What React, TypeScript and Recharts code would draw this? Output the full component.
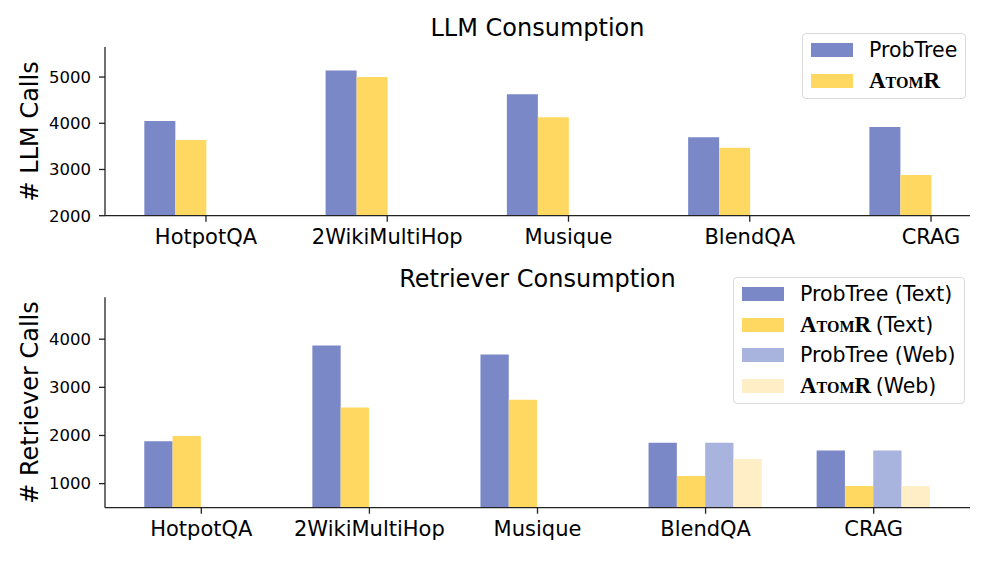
import { BarChart, Bar, XAxis, YAxis } from "recharts";

const categories = ["HotpotQA", "2WikiMultiHop", "Musique", "BlendQA", "CRAG"];

// LLM calls
const llmProbTree = [4050, 5140, 4630, 3700, 3920];
const llmAtomR = [3640, 5000, 4130, 3470, 2880];
const llmTicks = [2000, 3000, 4000, 5000];

// Retriever calls
const retProbTreeText = [1880, 3870, 3680, 1850, 1690];
const retAtomRText = [1990, 2580, 2740, 1160, 950];
const retProbTreeWeb = [null, null, null, 1850, 1690];
const retAtomRWeb = [null, null, null, 1510, 950];
const retTicks = [1000, 2000, 3000, 4000];

const catTicks = [0, 1, 2, 3, 4];

const PT = "#7a88c8";
const AT = "#ffd862";
const PTW = "#a9b4de";
const ATW = "#ffeec6";

const SANS = "'DejaVu Sans', sans-serif";

const llmData = categories.map((c, i) => ({
  x: i,
  name: c,
  probTree: llmProbTree[i],
  atomR: llmAtomR[i],
}));

const retData = categories.map((c, i) => ({
  x: i,
  name: c,
  probTreeText: retProbTreeText[i],
  atomRText: retAtomRText[i],
  probTreeWeb: retProbTreeWeb[i],
  atomRWeb: retAtomRWeb[i],
}));

const YLabel = (props: any) => {
  const { viewBox, text } = props;
  const cy = viewBox.y + viewBox.height / 2;
  return (
    <text
      x={30}
      y={cy}
      transform={`rotate(-90 30 ${cy})`}
      textAnchor="middle"
      dominantBaseline="central"
      fontFamily={SANS}
      fontSize={24}
      fill="#000"
    >
      {text}
    </text>
  );
};

const AtomR = () => (
  <span
    style={{
      fontFamily: "'Liberation Serif', serif",
      fontWeight: "bold",
      fontVariant: "small-caps",
      fontSize: 23,
      marginRight: -2,
    }}
  >
    AtomR
  </span>
);

const LegendBox = ({
  left,
  top,
  width,
  items,
}: {
  left: number;
  top: number;
  width: number;
  items: { color: string; label: React.ReactNode }[];
}) => (
  <div
    style={{
      position: "absolute",
      left,
      top,
      width,
      boxSizing: "border-box",
      border: "1.5px solid #d9d9d9",
      borderRadius: 4,
      background: "#fff",
      padding: "1px 0 2px 8px",
      fontFamily: SANS,
      fontSize: 20.5,
      color: "#000",
    }}
  >
    {items.map((it, i) => (
      <div
        key={i}
        style={{ display: "flex", alignItems: "center", height: 30.5 }}
      >
        <div
          style={{
            width: 42,
            height: 14,
            background: it.color,
            marginRight: 16,
            flexShrink: 0,
          }}
        />
        <div style={{ whiteSpace: "nowrap" }}>{it.label}</div>
      </div>
    ))}
  </div>
);

const axisLine = { stroke: "#222", strokeWidth: 1.3 };
const tickStyle = { fill: "#000", fontFamily: SANS };

const Title = ({ top, text }: { top: number; text: string }) => (
  <div
    style={{
      position: "absolute",
      left: 105,
      width: 865,
      top,
      textAlign: "center",
      fontFamily: SANS,
      fontSize: 24,
      color: "#000",
      lineHeight: "28px",
    }}
  >
    {text}
  </div>
);

export default function App() {
  return (
    <div
      style={{
        position: "absolute",
        left: 0,
        top: 0,
        width: 997,
        height: 561,
        background: "#fff",
        overflow: "hidden",
      }}
    >
      <div style={{ position: "absolute", left: 0, top: 0 }}>
        <BarChart
          width={997}
          height={260}
          data={llmData}
          margin={{ top: 47, right: 27, left: 30, bottom: 4.3 }}
          barGap={0}
        >
          <XAxis
            dataKey="x"
            type="number"
            scale="linear"
            domain={[-0.557, 4.215]}
            allowDataOverflow
            ticks={catTicks}
            interval={0}
            tickFormatter={(v) => categories[v] ?? ""}
            axisLine={axisLine}
            tickLine={axisLine}
            tickSize={6}
            tickMargin={7}
            height={40}
            tick={{ ...tickStyle, fontSize: 21 }}
          />
          <YAxis
            type="number"
            domain={[2000, 5650]}
            allowDataOverflow
            ticks={llmTicks}
            interval={0}
            width={75}
            axisLine={axisLine}
            tickLine={axisLine}
            tickSize={6}
            tickMargin={8}
            tick={{ ...tickStyle, fontSize: 16.5 }}
            label={<YLabel text="# LLM Calls" />}
          />
          <Bar dataKey="probTree" fill={PT} barSize={31} isAnimationActive={false} />
          <Bar dataKey="atomR" fill={AT} barSize={31} isAnimationActive={false} />
          <Bar dataKey="probTreeWeb" fill={PTW} barSize={31} isAnimationActive={false} />
          <Bar dataKey="atomRWeb" fill={ATW} barSize={31} isAnimationActive={false} />
        </BarChart>
      </div>

      <div style={{ position: "absolute", left: 0, top: 250 }}>
        <BarChart
          width={997}
          height={311}
          data={retData}
          margin={{ top: 47.3, right: 27, left: 30, bottom: 13.3 }}
          barGap={0}
        >
          <XAxis
            dataKey="x"
            type="number"
            scale="linear"
            domain={[-0.573, 4.573]}
            allowDataOverflow
            ticks={catTicks}
            interval={0}
            tickFormatter={(v) => categories[v] ?? ""}
            axisLine={axisLine}
            tickLine={axisLine}
            tickSize={6}
            tickMargin={7}
            height={40}
            tick={{ ...tickStyle, fontSize: 21 }}
          />
          <YAxis
            type="number"
            domain={[500, 4870]}
            allowDataOverflow
            ticks={retTicks}
            interval={0}
            width={75}
            axisLine={axisLine}
            tickLine={axisLine}
            tickSize={6}
            tickMargin={8}
            tick={{ ...tickStyle, fontSize: 16.5 }}
            label={<YLabel text="# Retriever Calls" />}
          />
          <Bar dataKey="probTreeText" fill={PT} barSize={28.3} isAnimationActive={false} />
          <Bar dataKey="atomRText" fill={AT} barSize={28.3} isAnimationActive={false} />
          <Bar dataKey="probTreeWeb" fill={PTW} barSize={28.3} isAnimationActive={false} />
          <Bar dataKey="atomRWeb" fill={ATW} barSize={28.3} isAnimationActive={false} />
        </BarChart>
      </div>

      <Title top={14} text="LLM Consumption" />
      <Title top={265} text="Retriever Consumption" />

      <LegendBox
        left={802}
        top={33}
        width={164}
        items={[
          { color: PT, label: "ProbTree" },
          { color: AT, label: <AtomR /> },
        ]}
      />
      <LegendBox
        left={733}
        top={277}
        width={232}
        items={[
          { color: PT, label: "ProbTree (Text)" },
          { color: AT, label: <><AtomR /> (Text)</> },
          { color: PTW, label: "ProbTree (Web)" },
          { color: ATW, label: <><AtomR /> (Web)</> },
        ]}
      />
    </div>
  );
}
